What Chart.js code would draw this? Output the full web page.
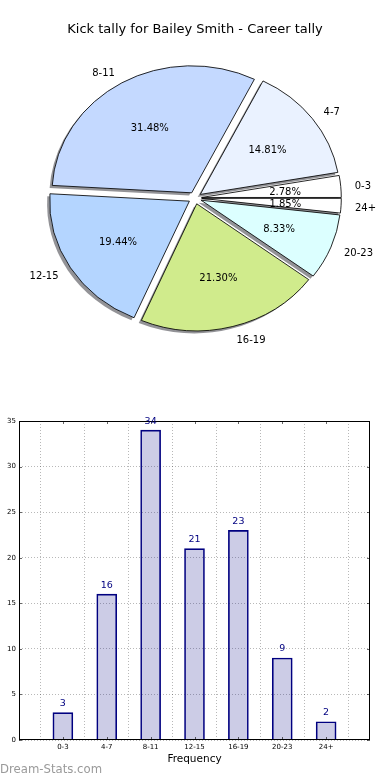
<!DOCTYPE html>
<html><head><meta charset="utf-8">
<script src="https://cdn.jsdelivr.net/npm/chart.js@4"></script>
<style>
html,body{margin:0;padding:0;background:#fff;}
#wrap{position:relative;width:390px;height:780px;overflow:hidden;background:#fff;}
#pie{position:absolute;left:0;top:0;}
#bar{position:absolute;left:0;top:400px;}
#wm{position:absolute;left:0;top:762px;font:11.7px "DejaVu Sans",sans-serif;color:#9a9a9a;white-space:nowrap;}
</style></head><body>
<div id="wrap">
<canvas id="pie" width="390" height="370"></canvas>
<canvas id="bar" width="390" height="380"></canvas>
<div id="wm">Dream-Stats.com</div>
</div>
<script>
// ---- data ----
const categories = ['0-3','4-7','8-11','12-15','16-19','20-23','24+'];
const tallies = [3,16,34,21,23,9,2];
const sliceColors = ['#ffffff','#eaf2ff','#c4d9ff','#b4d5ff','#d0eb8c','#dcffff','#ffffff'];
const yTicks = [0,5,10,15,20,25,30,35];
const chartTitle = 'Kick tally for Bailey Smith - Career tally';
const xTitle = 'Frequency';

Chart.defaults.font.family = '"DejaVu Sans", sans-serif';
Chart.defaults.color = '#000';

// ---- pie ----
const SX = 1.1, EXPLODE = 6, PIE_R = 127, TEXT_DY = 1.5;
const total = tallies.reduce((a,b)=>a+b,0);
const pieLabels = categories.slice().reverse();
const pieData = tallies.slice().reverse();
const pieCols = sliceColors.slice().reverse();

const ArcEl = Chart.registry.getElement('arc');
const baseArcDraw = ArcEl.prototype.draw;
ArcEl.prototype.draw = function(ctx){
  const h = (this.startAngle + this.endAngle)/2;
  ctx.save();
  ctx.translate(Math.cos(h)*EXPLODE, Math.sin(h)*EXPLODE);
  baseArcDraw.call(this, ctx);
  ctx.restore();
};

const ellipsePlugin = {
  id:'ellipse',
  beforeDatasetsDraw(chart){
    const ctx = chart.ctx;
    const meta = chart.getDatasetMeta(0);
    const cx = meta.data[0].x, cy = meta.data[0].y;
    ctx.save();
    ctx.translate(cx,cy); ctx.scale(SX,1); ctx.translate(-cx,-cy);
    meta.data.forEach(arc=>{
      const h=(arc.startAngle+arc.endAngle)/2;
      const ox=Math.cos(h)*EXPLODE - 2.6/SX, oy=Math.sin(h)*EXPLODE + 2.6;
      ctx.beginPath();
      ctx.moveTo(arc.x+ox, arc.y+oy);
      ctx.arc(arc.x+ox, arc.y+oy, arc.outerRadius, arc.startAngle, arc.endAngle);
      ctx.closePath();
      ctx.fillStyle='rgba(40,40,48,0.5)';
      ctx.fill();
    });
  },
  afterDatasetsDraw(chart){
    const ctx = chart.ctx;
    ctx.restore();
    const meta = chart.getDatasetMeta(0);
    ctx.save();
    ctx.font = '10px "DejaVu Sans", sans-serif';
    ctx.fillStyle = '#000';
    ctx.textBaseline = 'middle';
    meta.data.forEach((arc,i)=>{
      const h=(arc.startAngle+arc.endAngle)/2, c=Math.cos(h), s=Math.sin(h), r=arc.outerRadius;
      const ex=arc.x+SX*c*EXPLODE, ey=arc.y+s*EXPLODE+TEXT_DY;
      ctx.textAlign = c>0 ? 'left' : 'right';
      ctx.fillText(pieLabels[i], ex+SX*1.1*r*c, ey+1.1*r*s);
      ctx.textAlign = 'center';
      ctx.fillText((pieData[i]/total*100).toFixed(2)+'%', ex+SX*0.6*r*c, ey+0.6*r*s);
    });
    ctx.restore();
  }
};

new Chart(document.getElementById('pie'), {
  type:'pie',
  data:{labels:pieLabels, datasets:[{data:pieData, backgroundColor:pieCols, borderColor:'#000', borderWidth:0.8, clip:false}]},
  options:{
    responsive:false, animation:false, events:[],
    rotation:90, radius:PIE_R,
    layout:{padding:{left:0,right:0,top:0,bottom:21.6}},
    plugins:{
      legend:{display:false}, tooltip:{enabled:false},
      title:{display:true, text:chartTitle, color:'#000', font:{size:13, weight:'normal'}, padding:{top:22,bottom:10}}
    }
  },
  plugins:[ellipsePlugin]
});

// ---- bar ----
const framePlugin = {
  id:'frame',
  afterDatasetsDraw(chart){
    const ctx=chart.ctx, a=chart.chartArea;
    const ys=chart.scales.y, xs=chart.scales.x;
    ctx.save();
    ctx.strokeStyle='#000'; ctx.lineWidth=0.6;
    ctx.beginPath();
    yTicks.forEach(v=>{
      const p=Math.round(ys.getPixelForValue(v))+0.5;
      ctx.moveTo(a.left,p); ctx.lineTo(a.left+3,p);
      ctx.moveTo(a.right,p); ctx.lineTo(a.right-3,p);
    });
    categories.forEach((c,i)=>{
      const p=Math.round(xs.getPixelForValue(i))+0.5;
      ctx.moveTo(p,a.bottom); ctx.lineTo(p,a.bottom-3);
      ctx.moveTo(p,a.top); ctx.lineTo(p,a.top+3);
    });
    ctx.stroke();
    ctx.lineWidth=1;
    ctx.strokeRect(Math.round(a.left)+0.5, Math.round(a.top)+0.5, Math.round(a.right-a.left)-1, Math.round(a.bottom-a.top)-1);
    ctx.restore();
  }
};
const valuePlugin = {
  id:'values',
  afterDatasetsDraw(chart){
    const ctx=chart.ctx, meta=chart.getDatasetMeta(0);
    ctx.save();
    ctx.font='9.5px "DejaVu Sans", sans-serif';
    ctx.fillStyle='#000080'; ctx.textAlign='center'; ctx.textBaseline='middle';
    meta.data.forEach((b,i)=>ctx.fillText(String(tallies[i]), b.x, b.y-9));
    ctx.restore();
  }
};

new Chart(document.getElementById('bar'), {
  type:'bar',
  data:{datasets:[{
    data:categories.map((c,i)=>({x:i,y:tallies[i]})),
    backgroundColor:'rgba(0,0,128,0.2)', borderColor:'#000080', borderWidth:1, barThickness:20
  }]},
  options:{
    responsive:false, animation:false, events:[],
    layout:{padding:{left:0,right:20,top:21,bottom:0}},
    plugins:{legend:{display:false}, tooltip:{enabled:false}},
    scales:{
      x:{type:'linear', min:-1, max:7, offset:false,
        ticks:{stepSize:1, autoSkip:false, maxRotation:0, padding:3, color:'#000', font:{size:7},
          callback:v=>(categories[v]!==undefined?categories[v]:'')},
        grid:{color:'rgba(0,0,0,0.28)', lineWidth:1, drawTicks:false},
        border:{display:false, dash:[1,2]},
        title:{display:true, text:xTitle, color:'#000', font:{size:10.5}, padding:{top:0,bottom:14}},
        afterFit(s){s.height=40;}
      },
      y:{min:0, max:35,
        ticks:{stepSize:5, padding:3, color:'#000', font:{size:7}},
        grid:{color:'rgba(0,0,0,0.28)', lineWidth:1, drawTicks:false},
        border:{display:false, dash:[1,2]},
        afterFit(s){s.width=19;}
      }
    }
  },
  plugins:[framePlugin, valuePlugin]
});
</script>
</body></html>
